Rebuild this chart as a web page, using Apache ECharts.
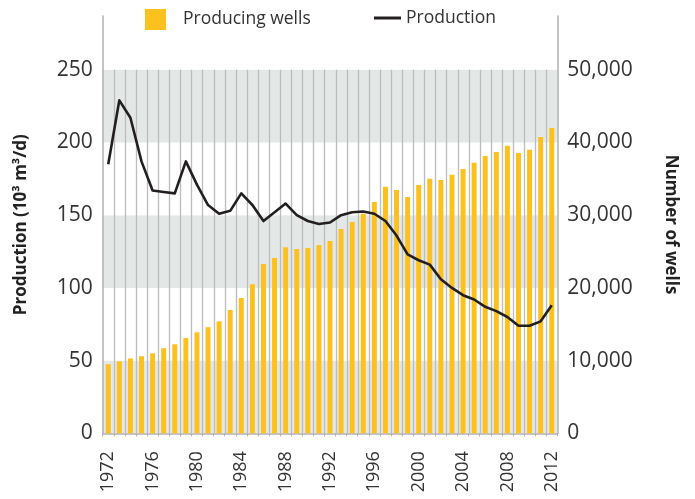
<!DOCTYPE html>
<html>
<head>
<meta charset="utf-8">
<script src="https://cdn.jsdelivr.net/npm/echarts@6/dist/echarts.min.js"></script>
<style>
html,body{margin:0;padding:0;background:#fff;}
#chart{width:695px;height:499px;}
</style>
</head>
<body>
<div id="chart"></div>
<script>
const years = ['1972','1973','1974','1975','1976','1977','1978','1979','1980','1981',
  '1982','1983','1984','1985','1986','1987','1988','1989','1990','1991',
  '1992','1993','1994','1995','1996','1997','1998','1999','2000','2001',
  '2002','2003','2004','2005','2006','2007','2008','2009','2010','2011','2012'];
const producingWells = [9500,9900,10300,10600,11000,11700,12250,13100,13900,14600,
  15400,16950,18600,20500,23300,24100,25600,25350,25500,25900,
  26450,28100,29050,30200,31800,33900,33450,32500,34150,35000,
  34850,35550,36350,37200,38150,38700,39550,38550,39000,40750,42000];
const production = [185,229,217,187,167,166,165,187,171,157,
  151,153,165,157,146,152,158,150,146,144,
  145,150,152,152.5,151,146,136,123,119,116,
  106,100,95,92,87,84,80,74,74,77,88];
const leftTicks = [0,50,100,150,200,250];
const rightTicks = [0,10000,20000,30000,40000,50000];
const bandTop = 250;

const FONT = 'Open Sans';
const chart = echarts.init(document.getElementById('chart'), null, {renderer:'canvas'});
const option = {
  animation: false,
  textStyle: {fontFamily: FONT},
  legend: [
    {data:['Producing wells'], left:145, top:9, padding:0, itemWidth:21, itemHeight:21,
     icon:'rect', textStyle:{fontFamily:FONT, fontSize:17.5, color:'#333', padding:[0,0,0,12]}},
    {data:['Production'], left:374, top:9, padding:0, itemWidth:27, itemHeight:3,
     icon:'rect', textStyle:{fontFamily:FONT, fontSize:17.5, color:'#333'}}
  ],
  grid: {left:102.7, right:137.7, top:16, bottom:65.7},
  xAxis: {
    type:'category', data: years, boundaryGap:true,
    axisLine:{lineStyle:{color:'#b0b0b0', width:1.5}},
    axisTick:{show:true, interval:0, length:3, lineStyle:{color:'#b0b0b0'}},
    axisLabel:{interval:3, rotate:90, align:'left', verticalAlign:'middle', margin:59,
      fontFamily:FONT, fontSize:18, color:'#333'},
    splitLine:{show:false}
  },
  yAxis: [
    {type:'value', min:0, max:287, interval:50, position:'left',
     name:'Production (10³ m³/d)', nameLocation:'middle', nameGap:73,
     nameTextStyle:{fontFamily:FONT, fontWeight:'bold', fontSize:17, color:'#222'},
     axisLine:{show:true, lineStyle:{color:'#b0b0b0', width:1.5}},
     axisTick:{show:false},
     axisLabel:{margin:10, fontFamily:FONT, fontSize:21, color:'#333', showMaxLabel:false,
       formatter: v => leftTicks.indexOf(v) >= 0 ? String(v) : ''},
     splitLine:{show:false},
     splitArea:{show:true, areaStyle:{color:['#e3e8e6','#ffffff']}}
    },
    {type:'value', min:0, max:57400, interval:10000, position:'right',
     name:'Number of wells', nameLocation:'middle', nameGap:105, nameRotate:-90,
     nameTextStyle:{fontFamily:FONT, fontWeight:'bold', fontSize:17, color:'#222'},
     axisLine:{show:true, lineStyle:{color:'#b0b0b0', width:1.5}},
     axisTick:{show:false},
     axisLabel:{margin:10, fontFamily:FONT, fontSize:21, color:'#333', showMaxLabel:false,
       formatter: v => rightTicks.indexOf(v) >= 0 ? v.toLocaleString('en-US') : ''},
     splitLine:{show:false}
    }
  ],
  series: [
    {
      type:'custom', name:'grid', yAxisIndex:0, silent:true, z:1,
      data: years.map((y,i)=>[i, bandTop]),
      renderItem: function(params, api){
        const i = api.value(0);
        if (i === 0) return null;
        const w = api.size([1,0])[0];
        const top = api.coord([i, api.value(1)]);
        const bot = api.coord([i, 0]);
        const x = Math.round(top[0] - w/2) + 0.5;
        return {type:'line', shape:{x1:x, y1:top[1], x2:x, y2:bot[1]},
          style:{stroke:'#bcbcbc', lineWidth:1.3}};
      }
    },
    {
      type:'bar', name:'Producing wells', yAxisIndex:1, data: producingWells,
      barWidth:'45%', itemStyle:{color:'#fdc11f'}, z:2
    },
    {
      type:'line', name:'Production', yAxisIndex:0, data: production,
      symbol:'none', smooth:false,
      lineStyle:{color:'#231f20', width:2.6, join:'round'},
      itemStyle:{color:'#231f20'}, z:3
    }
  ]
};
chart.setOption(option);
</script>
</body>
</html>
